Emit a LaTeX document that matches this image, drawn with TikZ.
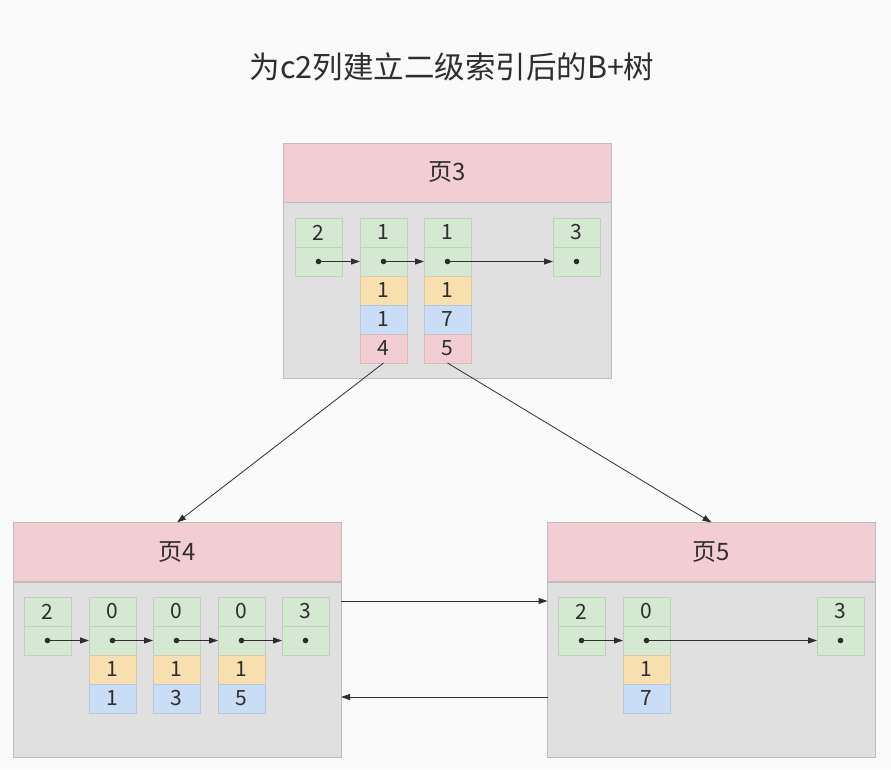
\documentclass[tikz,border=0pt]{standalone}
\usepackage{fontspec}
\newfontfamily\cjk{Noto Sans CJK SC}
\usepackage{tikz}
\usetikzlibrary{arrows.meta}

\definecolor{bgcol}{HTML}{FAFAFA}
\definecolor{bodycol}{HTML}{E0E0E0}
\definecolor{edgecol}{HTML}{BDBDBD}
\definecolor{headcol}{HTML}{F2CDD3}
\definecolor{grncol}{HTML}{D5E8D1}
\definecolor{orgcol}{HTML}{F8DFB0}
\definecolor{blucol}{HTML}{C9DDF6}
\definecolor{pnkcol}{HTML}{F2CDD3}
\definecolor{inkcol}{HTML}{2E2E2E}

\tikzset{
  every node/.style={font=\cjk\fontsize{21}{24}\selectfont, text=inkcol, outer sep=0pt},
  head/.style={rectangle, fill=headcol, draw=edgecol, line width=0.8pt,
    minimum width=328pt, minimum height=59pt, inner sep=0pt,
    font=\cjk\fontsize{24}{28}\selectfont},
  body/.style={rectangle, fill=bodycol, draw=edgecol, line width=0.8pt,
    minimum width=328pt, inner sep=0pt},
  cell/.style={rectangle, line width=0.6pt, minimum width=47pt, minimum height=29pt, inner sep=0pt},
  grn/.style={cell, fill=grncol, draw=grncol!75!gray},
  org/.style={cell, fill=orgcol, draw=orgcol!75!gray},
  blu/.style={cell, fill=blucol, draw=blucol!75!gray},
  pnk/.style={cell, fill=pnkcol, draw=pnkcol!75!gray},
  ptr/.style={draw=inkcol, line width=1pt, -{Triangle[length=9pt,width=6pt]}},
  tree/.style={draw=inkcol, line width=0.8pt, -{Triangle[length=9pt,width=6pt]}},
}

\begin{document}
\begin{tikzpicture}[x=1pt,y=-1pt]
\fill[bgcol] (0,0) rectangle (891,769);
\useasboundingbox (0,0) rectangle (891,769);
\node[font=\cjk\fontsize{30.5}{34}\selectfont] (title) at (452,67) {为c2列建立二级索引后的B+树};
% page 3
\node[head] (p3head) at (447,172.5) {页3};
\node[body, minimum height=176pt] (p3body) at (447,290) {};
\node[grn] (p3a1) at (318.5,232.5) {2};
\node[grn] (p3a2) at (318.5,261.5) {};
\node[grn] (p3b1) at (383.5,232.5) {1};
\node[grn] (p3b2) at (383.5,261.5) {};
\node[org] (p3b3) at (383.5,290.5) {1};
\node[blu] (p3b4) at (383.5,319.5) {1};
\node[pnk] (p3b5) at (383.5,348.5) {4};
\node[grn] (p3c1) at (447.5,232.5) {1};
\node[grn] (p3c2) at (447.5,261.5) {};
\node[org] (p3c3) at (447.5,290.5) {1};
\node[blu] (p3c4) at (447.5,319.5) {7};
\node[pnk] (p3c5) at (447.5,348.5) {5};
\node[grn] (p3d1) at (576.5,232.5) {3};
\node[grn] (p3d2) at (576.5,261.5) {};
\fill[inkcol] (p3a2) circle [radius=2.8pt];
\fill[inkcol] (p3b2) circle [radius=2.8pt];
\fill[inkcol] (p3c2) circle [radius=2.8pt];
\fill[inkcol] (p3d2) circle [radius=2.8pt];
\draw[ptr] (p3a2.center) -- (p3b2.west);
\draw[ptr] (p3b2.center) -- (p3c2.west);
\draw[ptr] (p3c2.center) -- (p3d2.west);
% page 4
\node[head] (p4head) at (177,552) {页4};
\node[body, minimum height=175pt] (p4body) at (177,669.5) {};
\node[grn] (p4a1) at (47.5,611.5) {2};
\node[grn] (p4a2) at (47.5,640.5) {};
\node[grn] (p4b1) at (112.5,611.5) {0};
\node[grn] (p4b2) at (112.5,640.5) {};
\node[org] (p4b3) at (112.5,669.5) {1};
\node[blu] (p4b4) at (112.5,698.5) {1};
\node[grn] (p4c1) at (176.5,611.5) {0};
\node[grn] (p4c2) at (176.5,640.5) {};
\node[org] (p4c3) at (176.5,669.5) {1};
\node[blu] (p4c4) at (176.5,698.5) {3};
\node[grn] (p4d1) at (241.5,611.5) {0};
\node[grn] (p4d2) at (241.5,640.5) {};
\node[org] (p4d3) at (241.5,669.5) {1};
\node[blu] (p4d4) at (241.5,698.5) {5};
\node[grn] (p4e1) at (305.5,611.5) {3};
\node[grn] (p4e2) at (305.5,640.5) {};
\fill[inkcol] (p4a2) circle [radius=2.8pt];
\fill[inkcol] (p4b2) circle [radius=2.8pt];
\fill[inkcol] (p4c2) circle [radius=2.8pt];
\fill[inkcol] (p4d2) circle [radius=2.8pt];
\fill[inkcol] (p4e2) circle [radius=2.8pt];
\draw[ptr] (p4a2.center) -- (p4b2.west);
\draw[ptr] (p4b2.center) -- (p4c2.west);
\draw[ptr] (p4c2.center) -- (p4d2.west);
\draw[ptr] (p4d2.center) -- (p4e2.west);
% page 5
\node[head] (p5head) at (711.5,552) {页5};
\node[body, minimum height=175pt] (p5body) at (711.5,669.5) {};
\node[grn] (p5a1) at (581.5,611.5) {2};
\node[grn] (p5a2) at (581.5,640.5) {};
\node[grn] (p5b1) at (646.5,611.5) {0};
\node[grn] (p5b2) at (646.5,640.5) {};
\node[org] (p5b3) at (646.5,669.5) {1};
\node[blu] (p5b4) at (646.5,698.5) {7};
\node[grn] (p5c1) at (840.5,611.5) {3};
\node[grn] (p5c2) at (840.5,640.5) {};
\fill[inkcol] (p5a2) circle [radius=2.8pt];
\fill[inkcol] (p5b2) circle [radius=2.8pt];
\fill[inkcol] (p5c2) circle [radius=2.8pt];
\draw[ptr] (p5a2.center) -- (p5b2.west);
\draw[ptr] (p5b2.center) -- (p5c2.west);
% links between pages
\draw[tree] (p3b5.south) -- (p4head.north);
\draw[tree] (p3c5.south) -- (p5head.north);
\draw[ptr] ([yshift=-19pt]p4body.north east) -- ([yshift=-19pt]p5body.north west);
\draw[ptr] ([yshift=-115pt]p5body.north west) -- ([yshift=-115pt]p4body.north east);
\end{tikzpicture}
\end{document}
